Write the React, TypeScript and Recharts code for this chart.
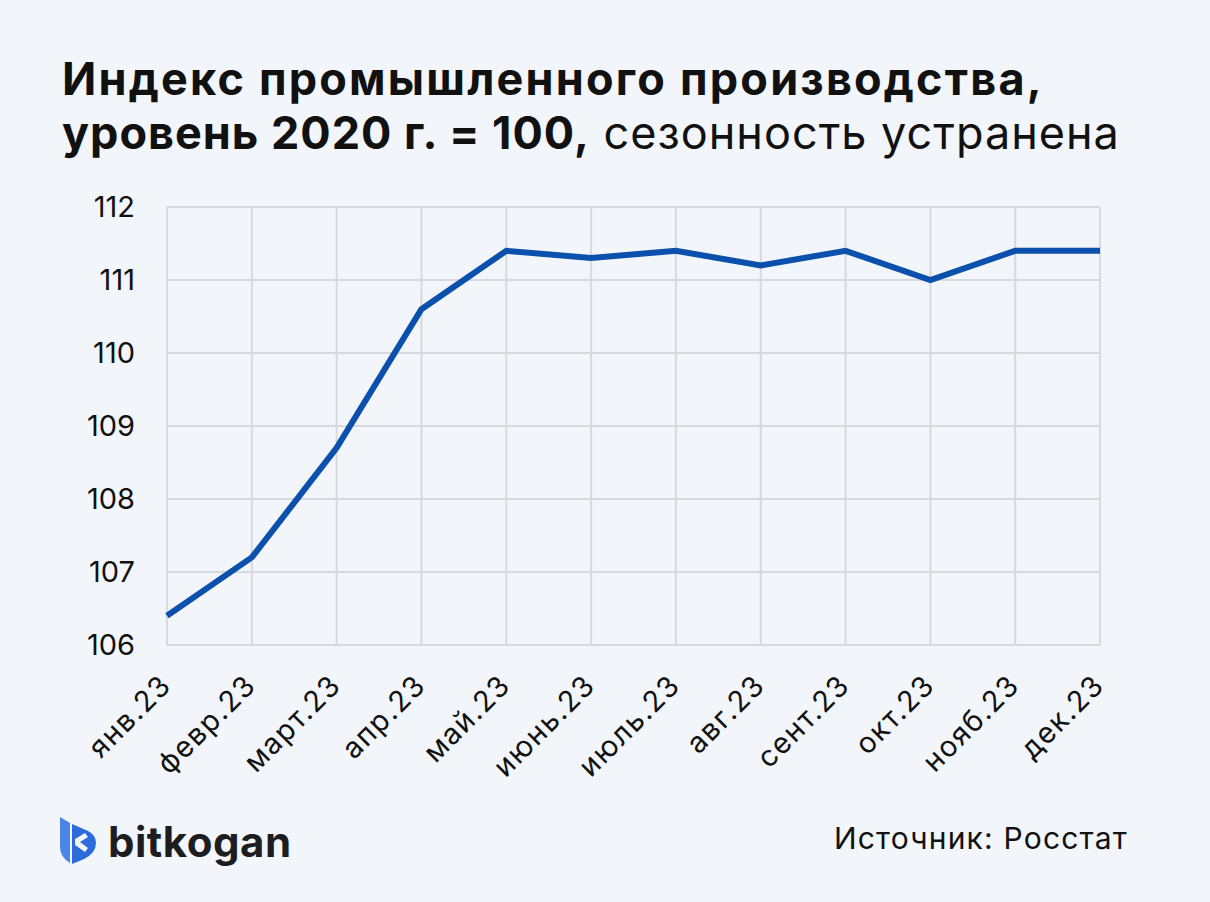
import { LineChart, Line, XAxis, YAxis, CartesianGrid } from 'recharts'

const months = ['янв.23', 'февр.23', 'март.23', 'апр.23', 'май.23', 'июнь.23', 'июль.23', 'авг.23', 'сент.23', 'окт.23', 'нояб.23', 'дек.23']
const indexValues = [106.4, 107.2, 108.7, 110.6, 111.4, 111.3, 111.4, 111.2, 111.4, 111.0, 111.4, 111.4]
const yTicks = [106, 107, 108, 109, 110, 111, 112]

const LINE_COLOR = '#0a50ac'
const GRID_COLOR = '#d6d9dd'
const BG = '#f2f5f9'
const FONT = 'Inter, "Open Sans", sans-serif'

const data = months.map((m, i) => ({ month: m, value: indexValues[i] }))

function MonthTick(props: any) {
  const { x, y, payload } = props
  return (
    <text
      x={x + 6}
      y={y + 34}
      transform={`rotate(-45 ${x + 6} ${y + 34})`}
      textAnchor="end"
      fill="#111"
      fontSize={29}
      letterSpacing={1.5}
      fontFamily={FONT}
    >
      {payload.value}
    </text>
  )
}

function Logo() {
  return (
    <svg width={40} height={48} viewBox="0 0 40 48" style={{ position: 'absolute', left: 58, top: 817 }}>
      <path d="M2 0 L12 6 L12 46 Q2 40 2 30 Z" fill="#4a86e8" />
      <path d="M14 7 L30 14 Q38 18 38 26 Q38 36 26 42 L14 47 Z" fill="#2c6bd9" />
      <path d="M17 22 L27 16 L30 20 L22 25 L30 31 L27 35 L17 28 Z" fill={BG} />
    </svg>
  )
}

export default function App() {
  return (
    <div style={{ position: 'fixed', left: 0, top: 0, width: 1210, height: 902, background: BG, fontFamily: FONT, overflow: 'hidden' }}>
      <div style={{ position: 'absolute', left: 62, top: 52, fontSize: 45, lineHeight: '54px', color: '#111' }}>
        <div style={{ fontWeight: 700, letterSpacing: 2.2 }}>Индекс промышленного производства,</div>
        <div>
          <span style={{ fontWeight: 700, letterSpacing: 1 }}>уровень 2020 г. = 100,</span>
          <span style={{ fontWeight: 400, letterSpacing: 1 }}> сезонность устранена</span>
        </div>
      </div>
      <div style={{ position: 'absolute', left: 0, top: 0 }}>
        <LineChart width={1210} height={902} data={data} margin={{ top: 207, right: 110, bottom: 137, left: 0 }}>
          <CartesianGrid stroke={GRID_COLOR} strokeWidth={2} />
          <XAxis
            dataKey="month"
            axisLine={false}
            tickLine={false}
            height={120}
            interval={0}
            tick={<MonthTick />}
          />
          <YAxis
            domain={[106, 112]}
            ticks={yTicks}
            width={167}
            axisLine={false}
            tickLine={false}
            tickSize={0}
            tickMargin={32}
            tick={{ fontSize: 29, fill: '#111', fontFamily: FONT }}
          />
          <Line
            type="linear"
            dataKey="value"
            stroke={LINE_COLOR}
            strokeWidth={6}
            dot={false}
            isAnimationActive={false}
          />
        </LineChart>
      </div>
      <Logo />
      <div style={{ position: 'absolute', left: 108, top: 816, fontSize: 42, fontWeight: 700, color: '#1d1d1f', letterSpacing: 0.5 }}>bitkogan</div>
      <div style={{ position: 'absolute', right: 82, top: 820, fontSize: 30, color: '#111', letterSpacing: 1.2 }}>Источник: Росстат</div>
    </div>
  )
}
